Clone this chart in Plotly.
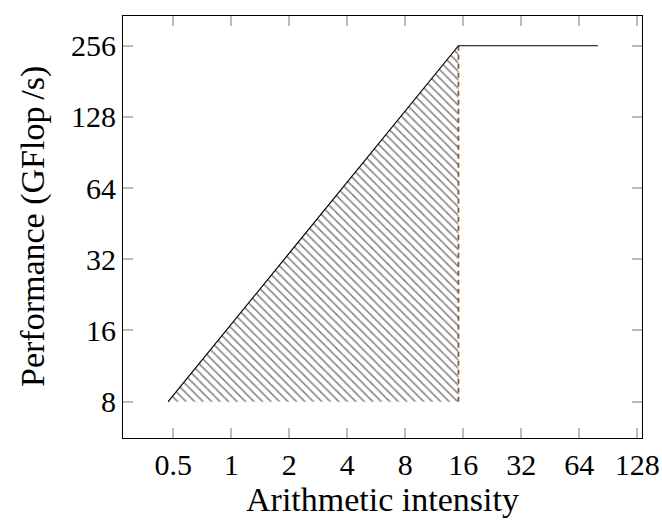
import plotly.graph_objects as go

# Data
x_ticks = [0.5, 1, 2, 4, 8, 16, 32, 64, 128]
x_tick_labels = ["0.5", "1", "2", "4", "8", "16", "32", "64", "128"]
y_ticks = [8, 16, 32, 64, 128, 256]
y_tick_labels = ["8", "16", "32", "64", "128", "256"]

roof_x = [0.47, 15.1, 80]
roof_y = [8, 256, 256]

region_x = [0.47, 15.1, 15.1, 0.47]
region_y = [8, 256, 8, 8]

ridge_x = [15.1, 15.1]
ridge_y = [8, 256]

FONT = "Liberation Serif"

fig = go.Figure()

fig.add_trace(go.Scatter(
    x=region_x, y=region_y, mode="lines", fill="toself",
    line=dict(width=0, color="rgba(0,0,0,0)"),
    fillcolor="white",
    fillpattern=dict(shape="\\", size=6, solidity=0.25, fgcolor="black", bgcolor="white"),
    hoverinfo="skip", showlegend=False,
))
fig.add_trace(go.Scatter(
    x=ridge_x, y=ridge_y, mode="lines",
    line=dict(color="rgb(140,90,45)", width=1.8, dash="5px,4px"),
    showlegend=False,
))
fig.add_trace(go.Scatter(
    x=roof_x, y=roof_y, mode="lines",
    line=dict(color="black", width=1.2),
    showlegend=False,
))

axis_common = dict(
    type="log", showgrid=False, zeroline=False, automargin=False,
    showline=True, linecolor="black", linewidth=1.2, mirror="allticks",
    ticks="inside", ticklen=10, tickwidth=1.5, tickcolor="#bbbbbb",
    tickfont=dict(family=FONT, size=30, color="black"),
)

fig.update_xaxes(
    **axis_common,
    range=[-0.562, 2.1316],
    tickvals=x_ticks, ticktext=x_tick_labels,
    title=dict(text="Arithmetic intensity", font=dict(family=FONT, size=34, color="black"), standoff=2),
)
fig.update_yaxes(
    **axis_common,
    range=[0.7493, 2.534],
    tickvals=y_ticks, ticktext=y_tick_labels,
)

fig.add_annotation(
    text="Performance (GFlop\u2009/s)", textangle=-90,
    xref="paper", yref="paper", x=0, y=0.5,
    xanchor="center", yanchor="middle", xshift=-90, showarrow=False,
    font=dict(family=FONT, size=34, color="black"),
)

fig.update_layout(
    width=662, height=520,
    margin=dict(l=123, r=20, t=16, b=82),
    paper_bgcolor="white", plot_bgcolor="white",
    showlegend=False,
)

fig.write_html("out.html")
